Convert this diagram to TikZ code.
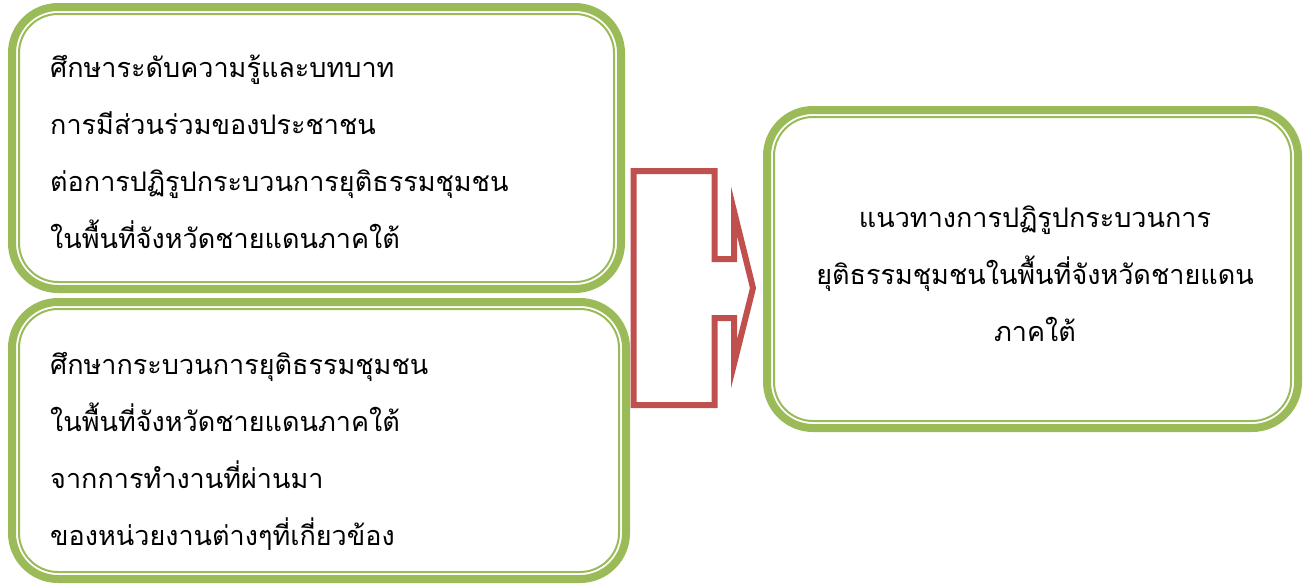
\documentclass[tikz,border=0pt]{standalone}
\usepackage{fontspec}
\newfontfamily\thaifont[Script=Thai]{Loma}
\definecolor{boxgreen}{HTML}{9BBB59}
\definecolor{arrowred}{HTML}{C0504D}

\begin{document}
\begin{tikzpicture}[x=1pt, y=-1pt,
    greenbox/.style={draw=boxgreen, line width=8pt, rounded corners=46pt},
    innerline/.style={draw=boxgreen, line width=2pt, rounded corners=39pt},
    boxtext/.style={font=\thaifont\fontsize{27}{57}\selectfont, inner sep=0pt}]
    \useasboundingbox (0,0) rectangle (1310,584);

    % Draw Basic Boxes
    \node[greenbox, minimum width=609pt, minimum height=282pt] (study1) at (316.5,148) {};
    \node[greenbox, minimum width=614pt, minimum height=277pt] (study2) at (319,440.5) {};
    \node[greenbox, minimum width=531pt, minimum height=318pt] (result) at (1032.5,269) {};

    % -- inner thin lines
    \foreach \boxname in {study1,study2,result}
        \draw[innerline] ([shift={(11,11)}]\boxname.north west)
            rectangle ([shift={(-11,-11)}]\boxname.south east);

    % Box Texts
    \node[boxtext, anchor=west, align=left] (text1) at (50,152)
        {ศึกษาระดับความรู้และบทบาท\\
         การมีส่วนร่วมของประชาชน\\
         ต่อการปฏิรูปกระบวนการยุติธรรมชุมชน\\
         ในพื้นที่จังหวัดชายแดนภาคใต้};
    \node[boxtext, anchor=west, align=left] (text2) at (50,451)
        {ศึกษากระบวนการยุติธรรมชุมชน\\
         ในพื้นที่จังหวัดชายแดนภาคใต้\\
         จากการทำงานที่ผ่านมา\\
         ของหน่วยงานต่างๆที่เกี่ยวข้อง};
    \node[boxtext, align=center] (text3) at (1035,274)
        {แนวทางการปฏิรูปกระบวนการ\\
         ยุติธรรมชุมชนในพื้นที่จังหวัดชายแดน\\
         ภาคใต้};

    % Block Arrow
    \draw[arrowred, line width=6pt, line join=miter]
        (633.5,171) -- (714.5,171) -- (714.5,259) -- (734,259) -- (734,211)
        -- (753,288) -- (734,364) -- (734,318) -- (714.5,318)
        -- (714.5,405) -- (633.5,405) -- cycle;
\end{tikzpicture}
\end{document}
